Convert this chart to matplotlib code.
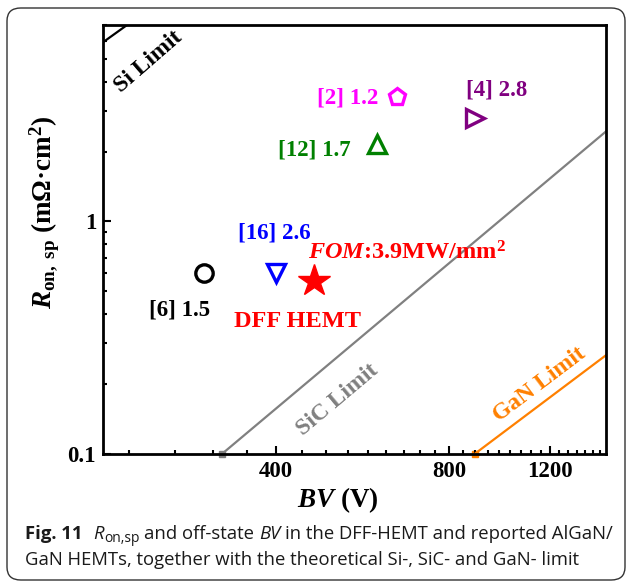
import numpy as np
import matplotlib
matplotlib.use("Agg")
import matplotlib.pyplot as plt
from matplotlib.patches import FancyBboxPatch
from matplotlib.ticker import FixedLocator, FixedFormatter, LogLocator, NullFormatter

# ---------------- data ----------------
ref_labels = ["[2] 1.2", "[12] 1.7", "[4] 2.8", "[16] 2.6", "[6] 1.5"]
ref_bv = [650, 600, 888, 400, 300]          # V
ref_ron = [3.42, 2.15, 2.8, 0.6, 0.6]       # mOhm cm^2
ref_colors = ["#ff00ff", "#008000", "#800080", "#0000ff", "#000000"]
ref_markers = ["p", "^", ">", "v", "o"]

dff_bv = 465
dff_ron = 0.555
dff_fom = "3.9"

si_bv = [200, 222]
si_ron = [5.9, 7.1]
sic_bv = [322, 1500]
sic_ron = [0.1, 2.44]
gan_bv = [886, 1500]
gan_ron = [0.1, 0.266]

x_ticks = [400, 800, 1200]
x_ticklabels = ["400", "800", "1200"]
y_ticks = [0.1, 1]
y_ticklabels = ["0.1", "1"]

# ---------------- style ----------------
plt.rcParams["font.family"] = ["Liberation Serif", "DejaVu Serif"]
plt.rcParams["font.weight"] = "bold"
plt.rcParams["mathtext.fontset"] = "custom"
plt.rcParams["mathtext.rm"] = "Liberation Serif:bold"
plt.rcParams["mathtext.bf"] = "Liberation Serif:bold"
plt.rcParams["mathtext.it"] = "Liberation Serif:italic:bold"

W, H = 627, 584
fig = plt.figure(figsize=(W / 100, H / 100), dpi=100)

def px_box(l, t, r, b):
    return [l / W, 1 - b / H, (r - l) / W, (b - t) / H]

# outer rounded frame
frame = FancyBboxPatch((7 / W, 1 - 580 / H), (625 - 7) / W, (580 - 8) / H,
                       boxstyle="round,pad=0,rounding_size=0.022",
                       transform=fig.transFigure, facecolor="none",
                       edgecolor="#333333", linewidth=1.0, zorder=0)
fig.patches.append(frame)

ax = fig.add_axes(px_box(103, 25, 606, 454))
ax.set_xscale("log")
ax.set_yscale("log")
ax.set_xlim(200, 1500)
ax.set_ylim(0.1, 7)

# theoretical limits
ax.plot(si_bv, si_ron, color="black", lw=1.6, zorder=2)
ax.plot(sic_bv, sic_ron, color="#808080", lw=1.6, zorder=2)
ax.plot(sic_bv[:1], sic_ron[:1], "s", color="#808080", ms=4, clip_on=False, zorder=1)
ax.plot(gan_bv, gan_ron, color="#ff8000", lw=1.6, zorder=2)
ax.plot(gan_bv[:1], gan_ron[:1], "s", color="#ff8000", ms=4, clip_on=False, zorder=1)

ax.text(240, 4.88, "Si Limit", rotation=41, ha="center", va="center",
        rotation_mode="anchor", fontsize=17, color="black")
ax.text(512, 0.1704, "SiC Limit", rotation=40, ha="center", va="center",
        rotation_mode="anchor", fontsize=17, color="#808080")
ax.text(1148, 0.198, "GaN Limit", rotation=37, ha="center", va="center",
        rotation_mode="anchor", fontsize=17, color="#ff8000")

# reported devices
label_offsets = [(-13.7, -4.2, "right"), (-19.4, -7.9, "right"), (-6.8, 15.7, "left"),
                 (-1.4, 25.0, "center"), (-17.8, -30.2, "center")]
for lab, bv, ron, c, m, (dx, dy, ha) in zip(ref_labels, ref_bv, ref_ron, ref_colors,
                                            ref_markers, label_offsets):
    ax.plot([bv], [ron], m, ms=12.5, mfc="none", mec=c, mew=2.4, zorder=4)
    ax.annotate(lab, xy=(bv, ron), xytext=(dx, dy), textcoords="offset points",
                ha=ha, va="baseline", fontsize=16.5, color=c)

# this work
ax.plot([dff_bv], [dff_ron], "*", ms=24, color="#ff0000", mec="#ff0000", zorder=5)
ax.annotate(r"$\mathit{FOM}$:" + dff_fom + r"MW/mm$^{\mathrm{2}}$", xy=(dff_bv, dff_ron),
            xytext=(-4.3, 15.6), textcoords="offset points", ha="left", va="baseline",
            fontsize=17.5, color="#ff0000")
ax.annotate("DFF HEMT", xy=(dff_bv, dff_ron), xytext=(-11.5, -32.8),
            textcoords="offset points", ha="center", va="baseline",
            fontsize=17.5, color="#ff0000")

# axes cosmetics
ax.xaxis.set_major_locator(FixedLocator(x_ticks))
ax.xaxis.set_major_formatter(FixedFormatter(x_ticklabels))
ax.xaxis.set_minor_locator(FixedLocator(
    [400 + k * 400 / 9 for k in range(-4, 25) if k % 9 != 0]))
ax.xaxis.set_minor_formatter(NullFormatter())
ax.yaxis.set_major_locator(FixedLocator(y_ticks))
ax.yaxis.set_major_formatter(FixedFormatter(y_ticklabels))
ax.yaxis.set_minor_locator(LogLocator(base=10, subs=np.arange(2, 10)))
ax.yaxis.set_minor_formatter(NullFormatter())
ax.tick_params(which="both", direction="in", top=False, right=False, width=1.5,
               labelsize=16.5)
ax.tick_params(which="major", length=5.5, pad=5)
ax.tick_params(which="minor", length=2.6)
for sp in ax.spines.values():
    sp.set_linewidth(2.0)

fig.text(45 / W, 1 - 212 / H, r"$\mathit{R}_{\mathrm{on,\ sp}}$ (mΩ·cm$^{\mathrm{2}}$)",
         rotation=90, ha="center", va="center", fontsize=19.5)
fig.text(338 / W, 1 - 500 / H, r"$\mathit{BV}$ (V)", ha="center", va="center",
         fontsize=19.5)

# caption, laid out as consecutive runs of differently styled text
renderer = fig.canvas.get_renderer()
cap_family = "Open Sans"
cap_size = 13.3
cap_color = "#1a1a1a"

def run_width(s, **kw):
    t = fig.text(0, 0, s, **kw)
    w = t.get_window_extent(renderer).width
    t.remove()
    return w

space_px = run_width("a a", family=cap_family, size=cap_size) - run_width("aa", family=cap_family, size=cap_size)

def draw_runs(x_px, base_px, runs):
    for text, style, gap, dy, scale in runs:
        x_px += gap * space_px
        t = fig.text(x_px / W, 1 - (base_px - dy) / H, text, family=cap_family,
                     size=cap_size * scale, color=cap_color, va="baseline",
                     weight=style.get("weight", "normal"), style=style.get("style", "normal"))
        x_px += t.get_window_extent(renderer).width

bold = {"weight": "bold"}
ital = {"style": "italic"}
norm = {}
draw_runs(25, 539, [
    ("Fig. 11", bold, 0, 0, 1.0),
    ("R", ital, 2.2, 0, 1.0),
    ("on,sp", norm, 0.1, -3.5, 0.75),
    ("and off-state", norm, 1.0, 0, 1.0),
    ("BV", ital, 1.0, 0, 1.0),
    ("in the DFF-HEMT and reported AlGaN/", norm, 1.0, 0, 1.0),
])
draw_runs(25, 565, [
    ("GaN HEMTs, together with the theoretical Si-, SiC- and GaN- limit", norm, 0, 0, 1.0),
])

fig.savefig("out.png", dpi=100)
